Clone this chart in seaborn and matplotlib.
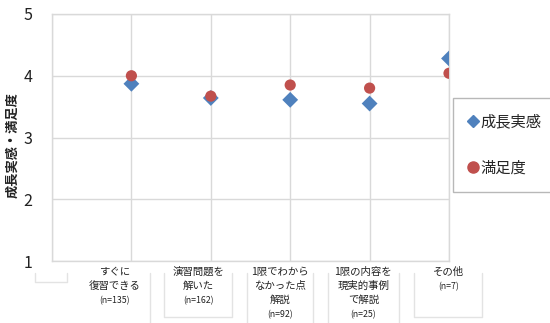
import matplotlib
matplotlib.use("Agg")
import matplotlib.pyplot as plt
from matplotlib.lines import Line2D
from matplotlib.transforms import blended_transform_factory
import seaborn as sns
import pandas as pd

# Categories (text lines under each position) and sample sizes
category_lines = [
    ["すぐに", "復習できる"],
    ["演習問題を", "解いた"],
    ["1限でわから", "なかった点", "解説"],
    ["1限の内容を", "現実的事例", "で解説"],
    ["その他"],
]
sample_sizes = ["(n=135)", "(n=162)", "(n=92)", "(n=25)", "(n=7)"]
category_pos = [1, 2, 3, 4, 5]

# Mean scores per category
growth = [3.87, 3.64, 3.61, 3.55, 4.28]        # 成長実感
satisfaction = [4.00, 3.67, 3.85, 3.80, 4.04]  # 満足度
series_names = ["成長実感", "満足度"]

y_ticks = [1, 2, 3, 4, 5]

df = pd.DataFrame({
    "x": category_pos * 2,
    "score": growth + satisfaction,
    "series": [series_names[0]] * len(growth) + [series_names[1]] * len(satisfaction),
})

sns.set_theme(style="white")
plt.rcParams["font.family"] = ["Noto Sans CJK JP", "DejaVu Sans"]

W, H = 550, 323
fig = plt.figure(figsize=(W / 100, H / 100), dpi=100)
ax = fig.add_axes([52 / W, 1 - 261 / H, (449 - 52) / W, (261 - 14) / H])

blue = "#4F81BD"
red = "#C0504D"
grid_c = "#d9d9d9"

sns.scatterplot(
    data=df, x="x", y="score", hue="series", style="series",
    palette={series_names[0]: blue, series_names[1]: red},
    markers={series_names[0]: "D", series_names[1]: "o"},
    s=65, linewidth=0, ax=ax, zorder=3, legend=False,
)

ax.set_xlim(0, 5)
ax.set_ylim(1, 5)
ax.set_xticks(range(0, 6))
ax.set_xticklabels([])
ax.set_yticks(y_ticks)
ax.set_yticklabels([str(t) for t in y_ticks], fontsize=11.5, color="#222222")
ax.tick_params(axis="y", length=0, pad=14)
ax.tick_params(axis="x", length=0)
ax.grid(True, color=grid_c, linewidth=1)
for sp in ax.spines.values():
    sp.set_color(grid_c)
    sp.set_linewidth(1)
ax.set_xlabel("")
ax.set_ylabel("")

fig.text(12 / W, 1 - 145 / H, "成長実感・満足度", rotation=90, ha="center", va="center",
         fontsize=9.5, fontweight="bold", color="#222222")

# Category label frames are shifted left of their markers
label_shift = [0.21, 0.16, 0.13, 0.08, 0.01]

trans = blended_transform_factory(ax.transData, fig.transFigure)
line_step = 14
for xpos, shift, lines, n in zip(category_pos, label_shift, category_lines, sample_sizes):
    cx = xpos - shift
    y = 272
    for ln in lines:
        ax.text(cx, 1 - y / H, ln, transform=trans, ha="center", va="center",
                fontsize=7.5, color="#222222", clip_on=False)
        y += line_step
    ax.text(cx, 1 - (y + 1) / H, n, transform=trans, ha="center", va="center",
            fontsize=6.3, color="#222222", clip_on=False)

# Light outlines of the label frames
box_c = "#e3e3e3"
segments = [
    [(35, 273), (35, 282), (67, 282), (67, 273)],
    [(150, 273), (150, 323)],
    [(164, 273), (164, 317), (232, 317), (232, 273)],
    [(247, 273), (247, 323)],
    [(313, 273), (313, 323)],
    [(328, 273), (328, 323)],
    [(399, 273), (399, 323)],
    [(414, 273), (414, 317), (482, 317), (482, 273)],
]
for seg in segments:
    xs = [p[0] / W for p in seg]
    ys = [1 - p[1] / H for p in seg]
    fig.add_artist(Line2D(xs, ys, color=box_c, linewidth=1))

handles = [
    Line2D([], [], marker="D", color=blue, linestyle="", markersize=6.5),
    Line2D([], [], marker="o", color=red, linestyle="", markersize=8),
]
leg = fig.legend(handles, series_names, loc="upper left",
                 bbox_to_anchor=(453 / W, 1 - 98 / H), fontsize=11,
                 frameon=True, fancybox=False, edgecolor="#a6a6a6",
                 handlelength=0.6, handletextpad=0.2, labelspacing=1.9,
                 borderpad=1.0, borderaxespad=0)
leg.get_frame().set_linewidth(1)

fig.savefig("out.png", dpi=100)
